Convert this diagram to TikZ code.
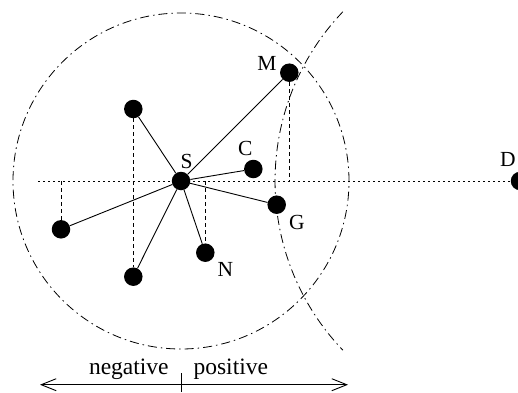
\documentclass[tikz,border=0pt]{standalone}
\usepackage{fontspec}
\setmainfont{Liberation Serif}
\usetikzlibrary{arrows.meta}
\begin{document}
\begin{tikzpicture}[x=1pt,y=1pt,
  dot/.style={circle,fill=black,minimum size=18.5pt,inner sep=0pt},
  lbl/.style={inner sep=0pt,anchor=base,font=\fontsize{21.5}{24}\selectfont},
  scalelbl/.style={inner sep=0pt,anchor=base,font=\fontsize{23.5}{26}\selectfont},
  dashdot/.style={line width=0.8pt,dash pattern=on 9pt off 4pt on 1.5pt off 4pt},
  proj/.style={line width=0.8pt,dash pattern=on 4pt off 3pt},
  axis/.style={line width=0.8pt,dash pattern=on 2pt off 3pt},
  edge/.style={line width=0.9pt}]
\useasboundingbox (0,0) rectangle (518,392);
% reference points
\coordinate (Sc) at (181,211);
\coordinate (Ax) at (38,211);
\coordinate (pFL) at (61,211);
\coordinate (pN) at (205.3,211);
\coordinate (pM) at (289.3,211);
\coordinate (arcTop) at (342.9,380.3);
% circles
\draw[dashdot] (Sc) circle[radius=168];
\draw[dashdot] (arcTop) arc[start angle=136.3,end angle=223.7,radius=245];
% nodes
\node[dot] (S) at (181,211) {};
\node[dot] (M) at (289.3,319.3) {};
\node[dot] (C) at (253.3,223) {};
\node[dot] (G) at (276.7,187.3) {};
\node[dot] (N) at (205.3,139.3) {};
\node[dot] (UL) at (133.3,283) {};
\node[dot] (LL) at (133.3,115.3) {};
\node[dot] (FL) at (61,162.7) {};
\node[dot] (D) at (520,211) {};
% axis and projections
\draw[axis] (Ax) -- (D);
\draw[proj] (pFL) -- (FL);
\draw[proj] (UL) -- (LL);
\draw[proj] (pN) -- (N);
\draw[proj] (M) -- (pM);
% edges
\foreach \t in {M,C,G,N,UL,LL,FL} \draw[edge] (S) -- (\t);
% labels
\node[lbl] (lM) at (267,321.3) {M};
\node[lbl] (lS) at (186.7,223.7) {S};
\node[lbl] (lC) at (245.2,236.3) {C};
\node[lbl] (lD) at (508,225.3) {D};
\node[lbl] (lG) at (297,162.7) {G};
\node[lbl] (lN) at (225.5,115.3) {N};
% bottom scale
\coordinate (aL) at (40,7.3);
\coordinate (aR) at (348,7.3);
\coordinate (tT) at (181,18.7);
\coordinate (tB) at (181,0);
\draw[edge,{Straight Barb[length=15pt,width=12pt]}-{Straight Barb[length=15pt,width=12pt]}] (aL) -- (aR);
\draw[edge] (tT) -- (tB);
\node[scalelbl] (neg) at (128.8,18) {negative};
\node[scalelbl] (pos) at (230.8,18) {positive};
\end{tikzpicture}
\end{document}
